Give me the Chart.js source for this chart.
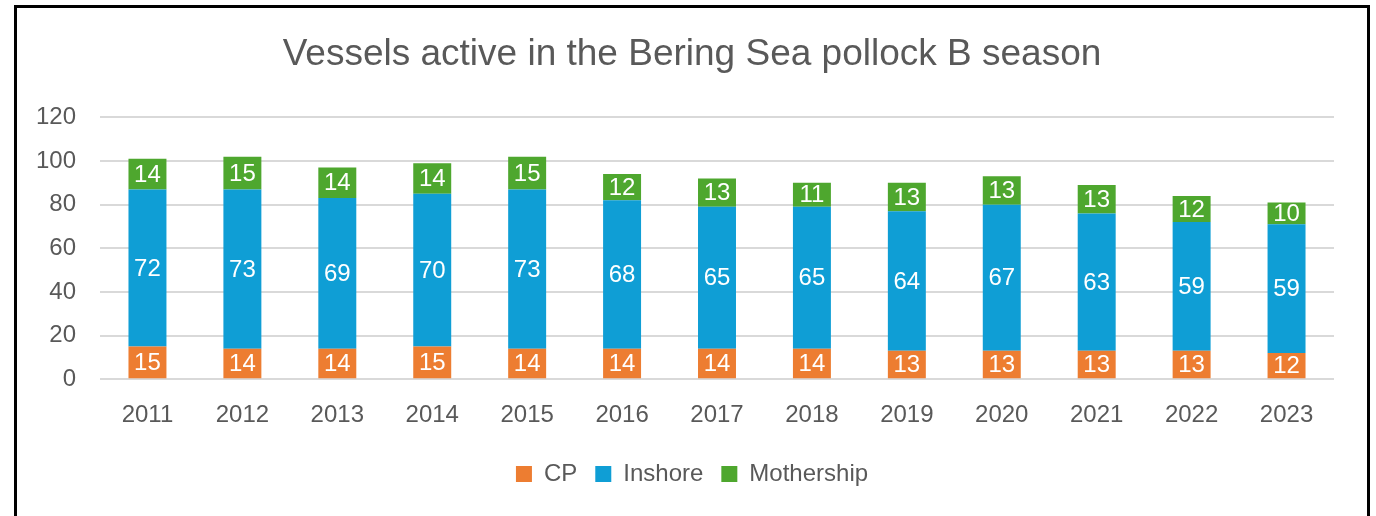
<!DOCTYPE html>
<html>
<head>
<meta charset="utf-8">
<script src="https://cdn.jsdelivr.net/npm/chart.js@4.4.1/dist/chart.umd.min.js"></script>
<style>
  body { margin: 0; background: #fff; }
  #frame {
    position: absolute; left: 14px; top: 5px;
    width: 1350px; height: 508px;
    border-left: 3px solid #000; border-top: 3px solid #000; border-right: 3px solid #000;
    border-bottom: 1px solid #ddd;
  }
</style>
</head>
<body>
<div id="frame"><canvas id="myChart" width="1350" height="508"></canvas></div>
<script>
const years = ['2011','2012','2013','2014','2015','2016','2017','2018','2019','2020','2021','2022','2023'];
const cp = [15, 14, 14, 15, 14, 14, 14, 14, 13, 13, 13, 13, 12];
const inshore = [72, 73, 69, 70, 73, 68, 65, 65, 64, 67, 63, 59, 59];
const mothership = [14, 15, 14, 14, 15, 12, 13, 11, 13, 13, 13, 12, 10];
const yTicks = [0, 20, 40, 60, 80, 100, 120];

const FONT = "'Liberation Sans', Arial, sans-serif";
const GRAY = '#595959';

// white value labels in the middle of each bar segment
const barLabels = {
  id: 'barLabels',
  afterDatasetsDraw(chart) {
    const ctx = chart.ctx;
    ctx.save();
    ctx.fillStyle = '#ffffff';
    ctx.font = '24px ' + FONT;
    ctx.textAlign = 'center';
    ctx.textBaseline = 'middle';
    chart.data.datasets.forEach((ds, i) => {
      const meta = chart.getDatasetMeta(i);
      meta.data.forEach((bar, j) => {
        ctx.fillText(ds.data[j], bar.x, (bar.y + bar.base) / 2 + 1);
      });
    });
    ctx.restore();
  }
};

const ctx = document.getElementById('myChart').getContext('2d');
new Chart(ctx, {
  type: 'bar',
  data: {
    labels: years,
    datasets: [
      { label: 'CP', data: cp, backgroundColor: '#ED7D31' },
      { label: 'Inshore', data: inshore, backgroundColor: '#0F9ED5' },
      { label: 'Mothership', data: mothership, backgroundColor: '#4EA72E' }
    ]
  },
  options: {
    responsive: false,
    animation: false,
    layout: { padding: { left: 0, right: 0, top: 0, bottom: 20 } },
    datasets: { bar: { barPercentage: 0.4, categoryPercentage: 1 } },
    scales: {
      x: {
        stacked: true,
        grid: { display: false },
        border: { display: false },
        ticks: { color: GRAY, font: { family: FONT, size: 24 }, padding: 14 }
      },
      y: {
        stacked: true,
        min: 0,
        max: 120,
        afterBuildTicks: (axis) => { axis.ticks = yTicks.map(v => ({ value: v })); },
        afterFit: (axis) => { axis.width = 83; },
        grid: { color: '#d9d9d9', lineWidth: 2, drawTicks: false },
        border: { display: false },
        ticks: { color: GRAY, font: { family: FONT, size: 24 }, padding: 24 }
      },
      // empty right axis, only keeps a margin on the right
      yRight: {
        position: 'right',
        grid: { display: false },
        border: { display: false },
        ticks: { display: false },
        afterFit: (axis) => { axis.width = 33; }
      }
    },
    plugins: {
      title: {
        display: true,
        text: 'Vessels active in the Bering Sea pollock B season',
        color: GRAY,
        font: { family: FONT, size: 37, weight: 'normal' },
        padding: { top: 25, bottom: 40 }
      },
      legend: {
        position: 'bottom',
        labels: {
          color: GRAY,
          font: { family: FONT, size: 24 },
          boxWidth: 16,
          boxHeight: 16,
          padding: 18
        }
      },
      tooltip: { enabled: false }
    }
  },
  plugins: [barLabels]
});
</script>
</body>
</html>
